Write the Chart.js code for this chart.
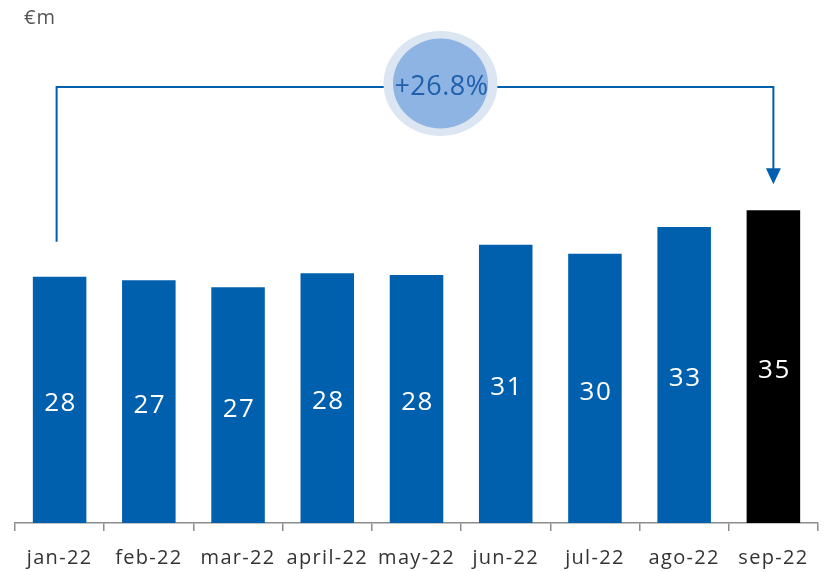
<!DOCTYPE html>
<html>
<head>
<meta charset="utf-8">
<script src="https://cdn.jsdelivr.net/npm/chart.js@4/dist/chart.umd.min.js"></script>
<style>
  html, body { margin: 0; padding: 0; background: #fff; }
  #wrap { width: 828px; height: 572px; position: relative; }
</style>
</head>
<body>
<div id="wrap"><canvas id="chart"></canvas></div>
<script>
// monthly figures, €m
const months = ['jan-22', 'feb-22', 'mar-22', 'april-22', 'may-22', 'jun-22', 'jul-22', 'ago-22', 'sep-22'];
const values = [27.8, 27.4, 26.6, 28.2, 28.0, 31.4, 30.4, 33.4, 35.3];
const growthLabel = '+26.8%';
const unitLabel = '€m';

const BLUE = '#0060AD';
const barColors = values.map((v, i) => i === values.length - 1 ? '#000000' : BLUE);

const fontFamily = '"Open Sans", "DejaVu Sans", sans-serif';

// the house font runs wide, so loosen the tracking for every label
const tracking = {
    id: 'tracking',
    beforeDraw(chart) {
        chart.ctx.letterSpacing = '1.3px';
    }
};

// white value inside each bar, plus the unit in the corner
const valueLabels = {
    id: 'valueLabels',
    afterDatasetsDraw(chart) {
        const ctx = chart.ctx;
        const meta = chart.getDatasetMeta(0);
        ctx.save();
        ctx.letterSpacing = '1.5px';
        ctx.fillStyle = '#ffffff';
        ctx.font = '400 26px ' + fontFamily;
        ctx.textAlign = 'center';
        ctx.textBaseline = 'middle';
        meta.data.forEach((bar, i) => {
            const mid = (bar.y + bar.base) / 2;
            ctx.fillText(Math.round(values[i]), bar.x + 1, mid + 4);
        });
        ctx.letterSpacing = '1px';
        ctx.fillStyle = '#555555';
        ctx.font = '400 20px ' + fontFamily;
        ctx.textAlign = 'left';
        ctx.fillText(unitLabel, 24, 18);
        ctx.restore();
    }
};

// bracket from first to last month with the growth bubble
const growthBracket = {
    id: 'growthBracket',
    afterDatasetsDraw(chart) {
        const ctx = chart.ctx;
        const meta = chart.getDatasetMeta(0);
        const first = meta.data[0];
        const last = meta.data[meta.data.length - 1];
        const area = chart.chartArea;
        const x0 = first.x - 3;
        const x1 = last.x;
        const top = area.top + 7;
        const startY = first.y - 35;
        const tipY = last.y - 26;

        ctx.save();
        ctx.strokeStyle = BLUE;
        ctx.lineWidth = 2;
        ctx.beginPath();
        ctx.moveTo(x0, startY);
        ctx.lineTo(x0, top);
        ctx.lineTo(x1, top);
        ctx.lineTo(x1, tipY - 14);
        ctx.stroke();

        ctx.fillStyle = BLUE;
        ctx.beginPath();
        ctx.moveTo(x1 - 7.5, tipY - 16);
        ctx.lineTo(x1 + 7.5, tipY - 16);
        ctx.lineTo(x1, tipY);
        ctx.closePath();
        ctx.fill();

        // bubble
        const cx = (chart.scales.x.getPixelForValue(3) + chart.scales.x.getPixelForValue(5)) / 2 + 24;
        const cy = top - 3.5;
        ctx.fillStyle = '#DCE6F2';
        ctx.beginPath();
        ctx.ellipse(cx, cy, 57, 52.5, 0, 0, Math.PI * 2);
        ctx.fill();
        ctx.fillStyle = '#8DB4E2';
        ctx.beginPath();
        ctx.ellipse(cx, cy, 47.5, 45, 0, 0, Math.PI * 2);
        ctx.fill();

        ctx.letterSpacing = '0.5px';
        ctx.fillStyle = '#1F5FAD';
        ctx.font = '400 27px ' + fontFamily;
        ctx.textAlign = 'center';
        ctx.textBaseline = 'middle';
        ctx.fillText(growthLabel, cx + 1, top);
        ctx.restore();
    }
};

new Chart(document.getElementById('chart'), {
    type: 'bar',
    data: {
        labels: months,
        datasets: [{
            data: values,
            backgroundColor: barColors,
            borderWidth: 0,
            barPercentage: 0.6,
            categoryPercentage: 1.0
        }]
    },
    options: {
        responsive: true,
        maintainAspectRatio: false,
        animation: false,
        layout: { padding: { top: 80, left: 15, right: 10, bottom: 0 } },
        plugins: {
            legend: { display: false },
            tooltip: { enabled: false }
        },
        scales: {
            x: {
                offset: true,
                afterFit(scale) { scale.height = 49; },
                border: { display: true, color: '#8c8c8c', width: 1.5 },
                grid: {
                    offset: true,
                    drawOnChartArea: false,
                    drawTicks: true,
                    tickLength: 8,
                    color: '#8c8c8c',
                    lineWidth: 1.5
                },
                ticks: {
                    color: '#333333',
                    font: { size: 20, family: fontFamily, weight: 400 },
                    padding: 15,
                    maxRotation: 0,
                    autoSkip: false
                }
            },
            y: {
                display: false,
                min: 0,
                max: 50
            }
        }
    },
    plugins: [tracking, valueLabels, growthBracket]
});
</script>
</body>
</html>
